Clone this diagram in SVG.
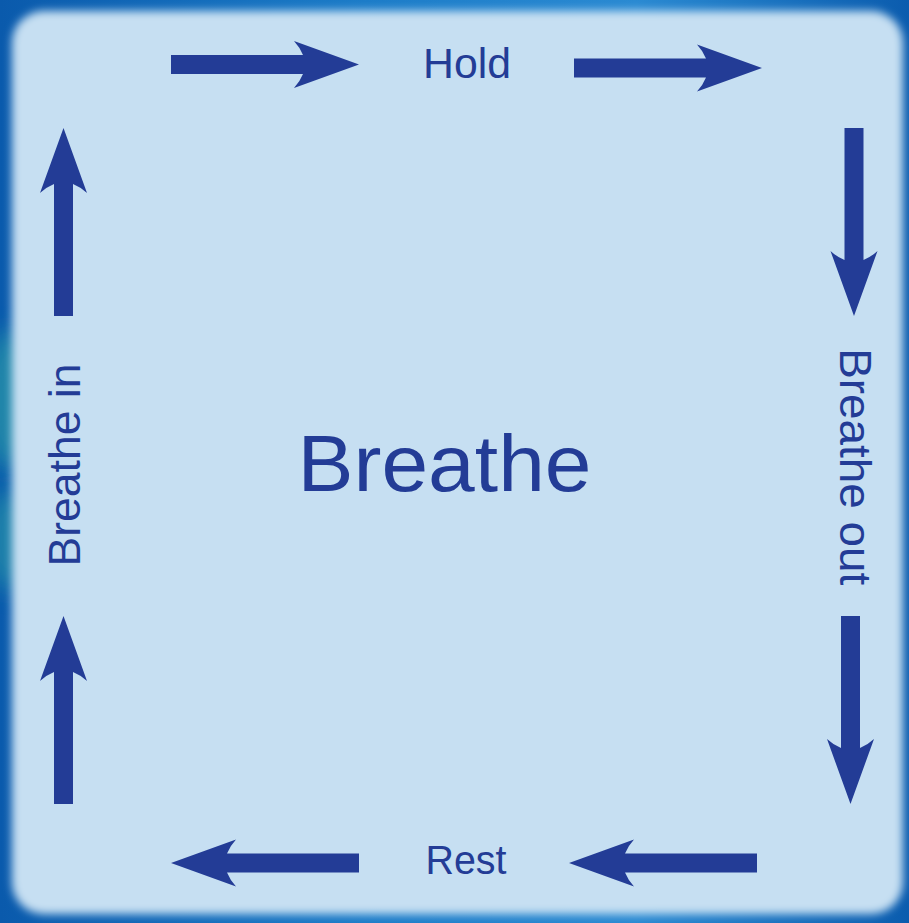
<svg xmlns="http://www.w3.org/2000/svg" width="909" height="923" viewBox="0 0 909 923">
  <defs>
    <linearGradient id="frameH" x1="0" y1="0" x2="1" y2="0">
      <stop offset="0" stop-color="#0a5aac"/>
      <stop offset="0.4" stop-color="#1c7cc8"/>
      <stop offset="0.7" stop-color="#2a8ad2"/>
      <stop offset="1" stop-color="#0b5cae"/>
    </linearGradient>
    <filter id="blur" x="-5%" y="-5%" width="110%" height="110%">
      <feGaussianBlur stdDeviation="4"/>
    </filter>
    <filter id="blurBig" x="-50%" y="-50%" width="200%" height="200%">
      <feGaussianBlur stdDeviation="12"/>
    </filter>
    <path id="arr" d="M0,-9.5 H132 Q129,-17 123,-23.5 L188,0 L123,23.5 Q129,17 132,9.5 H0 Z"/>
    <style>
      .arrow { fill: #233c96; }
      .lbl { font-family: "Liberation Sans", Arial, sans-serif; fill: #233c96; text-anchor: middle; }
    </style>
  </defs>

  <g id="background">
    <rect x="0" y="0" width="909" height="923" fill="url(#frameH)"/>
    <ellipse cx="10" cy="400" rx="30" ry="70" fill="#2a9aa8" opacity="0.7" filter="url(#blurBig)"/>
    <ellipse cx="10" cy="540" rx="30" ry="50" fill="#2a9aa8" opacity="0.6" filter="url(#blurBig)"/>
    <rect x="12" y="11" width="891" height="903" rx="32" ry="32" fill="#c6dff2" filter="url(#blur)"/>
  </g>

  <g id="connectors" class="arrow">
    <use href="#arr" transform="translate(171,64.5)"/>
    <use href="#arr" transform="translate(574,68)"/>
    <use href="#arr" transform="translate(854,128) rotate(90)"/>
    <use href="#arr" transform="translate(850.5,616) rotate(90)"/>
    <use href="#arr" transform="translate(757,863) rotate(180)"/>
    <use href="#arr" transform="translate(359,863) rotate(180)"/>
    <use href="#arr" transform="translate(63.5,804) rotate(-90)"/>
    <use href="#arr" transform="translate(63.5,316) rotate(-90)"/>
  </g>

  <g id="node-hold">
    <text class="lbl" x="467" y="78" font-size="43" textLength="88" lengthAdjust="spacingAndGlyphs">Hold</text>
  </g>
  <g id="node-breathe-out">
    <text class="lbl" transform="translate(840,466.7) rotate(90)" x="0" y="0" font-size="44" textLength="237" lengthAdjust="spacingAndGlyphs">Breathe out</text>
  </g>
  <g id="node-rest">
    <text class="lbl" x="466" y="874" font-size="41" textLength="81" lengthAdjust="spacingAndGlyphs">Rest</text>
  </g>
  <g id="node-breathe-in">
    <text class="lbl" transform="translate(80,465) rotate(-90)" x="0" y="0" font-size="44" textLength="203" lengthAdjust="spacingAndGlyphs">Breathe in</text>
  </g>
  <g id="node-center">
    <text class="lbl" x="444.5" y="491" font-size="80" textLength="294" lengthAdjust="spacingAndGlyphs">Breathe</text>
  </g>
</svg>
